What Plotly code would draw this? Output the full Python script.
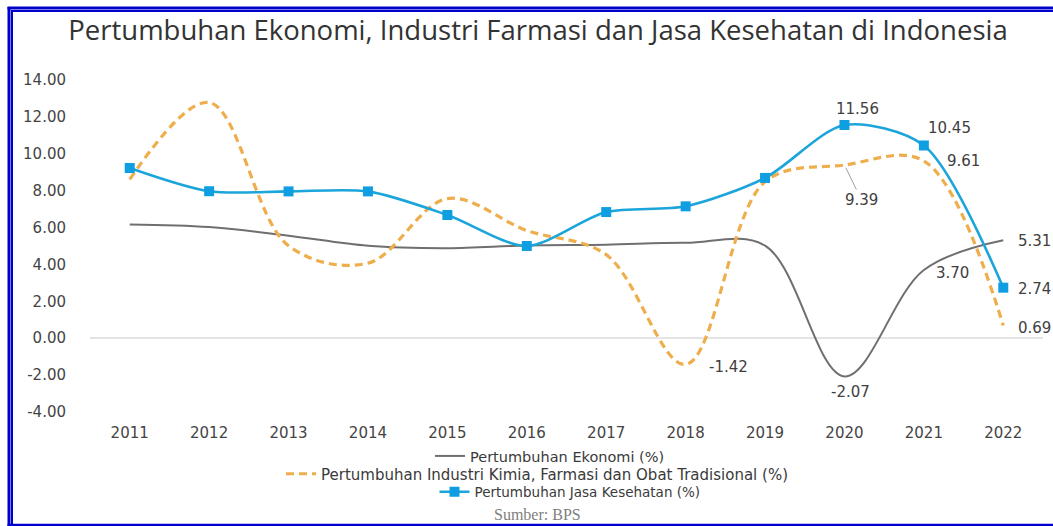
import plotly.graph_objects as go

years = [2011, 2012, 2013, 2014, 2015, 2016, 2017, 2018, 2019, 2020, 2021, 2022]
ekonomi = [6.17, 6.03, 5.56, 5.01, 4.88, 5.03, 5.07, 5.17, 5.02, -2.07, 3.70, 5.31]
farmasi = [8.61, 12.78, 5.01, 4.07, 7.57, 5.84, 4.53, -1.42, 8.48, 9.39, 9.61, 0.69]
kesehatan = [9.23, 7.97, 7.96, 7.96, 6.68, 5.00, 6.84, 7.15, 8.69, 11.56, 10.45, 2.74]
ytick_vals = [-4, -2, 0, 2, 4, 6, 8, 10, 12, 14]
ytick_text = [f"{v:.2f}" for v in ytick_vals]

names = ["Pertumbuhan Ekonomi (%)",
         "Pertumbuhan Industri Kimia, Farmasi dan Obat Tradisional (%)",
         "Pertumbuhan Jasa Kesehatan (%)"]

W, H = 1053, 526
L, R, T, B = 90, 10, 80, 114
PW, PH = W - L - R, H - T - B

def px(x):
    return (x - L) / PW

def py(y):
    return (H - B - y) / PH

FONT = "DejaVu Sans"
fig = go.Figure()
fig.add_trace(go.Scatter(x=years, y=ekonomi, mode="lines", name=names[0],
                         line=dict(color="#6f6f6f", width=2, shape="spline", smoothing=1.0),
                         legend="legend"))
fig.add_trace(go.Scatter(x=years, y=farmasi, mode="lines", name=names[1],
                         line=dict(color="#eeae4c", width=3.2, dash="8px,5px", shape="spline", smoothing=1.0),
                         legend="legend2"))
fig.add_trace(go.Scatter(x=years, y=kesehatan, mode="lines+markers", name=names[2],
                         line=dict(color="#1ba5da", width=2.6, shape="spline", smoothing=0.8),
                         marker=dict(symbol="square", size=10, color="#109ee2"),
                         legend="legend3"))

LBL = dict(family=FONT, size=15, color="#404040")
labels = [
    (2020, kesehatan[9], "11.56", 13, 16),
    (2021, kesehatan[10], "10.45", 26, 17),
    (2021, farmasi[10], "9.61", 40, 0),
    (2022, ekonomi[11], "5.31", 31, -1),
    (2022, kesehatan[11], "2.74", 31, -1),
    (2022, farmasi[11], "0.69", 31, -2),
    (2021, ekonomi[10], "3.70", 29, -3),
    (2020, ekonomi[9], "-2.07", 6, -16),
    (2018, farmasi[7], "-1.42", 43, -3),
]
ann = []
for x, y, t, dx, dy in labels:
    ann.append(dict(x=x, y=y, text=t, showarrow=False, xshift=dx, yshift=dy, font=LBL))
ann.append(dict(x=2020, y=farmasi[9], text="9.39", showarrow=True, arrowhead=0,
                arrowwidth=1, arrowcolor="#a0a0a0", ax=17, ay=35, standoff=3, font=LBL))
ann.append(dict(x=px(537), y=py(514), xref="paper", yref="paper", yanchor="middle",
                text="Sumber: BPS", showarrow=False,
                font=dict(family="Liberation Serif", size=16, color="#808080")))

BLUE = "#0000cd"
shapes = [
    dict(type="line", xref="paper", yref="paper", x0=px(9), x1=px(9), y0=py(7), y1=py(530), line=dict(color=BLUE, width=3)),
    dict(type="line", xref="paper", yref="paper", x0=px(12), x1=px(12), y0=py(10.5), y1=py(530), line=dict(color=BLUE, width=2)),
    dict(type="line", xref="paper", yref="paper", x0=px(7.5), x1=px(1060), y0=py(8), y1=py(8), line=dict(color=BLUE, width=3)),
    dict(type="line", xref="paper", yref="paper", x0=px(11), x1=px(1060), y0=py(11), y1=py(11), line=dict(color=BLUE, width=2)),
    dict(type="line", xref="paper", yref="paper", x0=px(7.5), x1=px(1060), y0=py(525), y1=py(525), line=dict(color=BLUE, width=2.5)),
]

def leg(xc, yc, size):
    return dict(x=px(xc), y=py(yc), xanchor="center", yanchor="middle", orientation="v",
                font=dict(family=FONT, size=size, color="#3a3a3a"),
                bgcolor="rgba(0,0,0,0)", itemwidth=30, tracegroupgap=0)

fig.update_layout(
    width=W, height=H,
    margin=dict(l=L, r=R, t=T, b=B),
    paper_bgcolor="white", plot_bgcolor="white",
    title=dict(text="Pertumbuhan Ekonomi, Industri Farmasi dan Jasa Kesehatan di Indonesia",
               x=538 / W, xanchor="center", y=1 - 30 / H, yanchor="middle", yref="container",
               font=dict(family="Open Sans", size=27.5, color="#333333", weight=500)),
    xaxis=dict(range=[2010.5, 2022.5], tickvals=years, ticktext=[str(y) for y in years],
               showgrid=False, zeroline=False, showline=False,
               ticks="outside", ticklen=7, tickcolor="rgba(0,0,0,0)",
               tickfont=dict(family=FONT, size=15, color="#444444")),
    yaxis=dict(range=[-4, 14], tickvals=ytick_vals, ticktext=ytick_text,
               showgrid=False, zeroline=True, zerolinecolor="#e4e4e4", zerolinewidth=1.5,
               showline=False, ticks="outside", ticklen=20, tickcolor="rgba(0,0,0,0)",
               tickfont=dict(family=FONT, size=15, color="#444444")),
    legend=leg(550, 456, 14.5),
    legend2=leg(537, 474, 15),
    legend3=leg(570, 492, 13.5),
    annotations=ann,
    shapes=shapes,
    showlegend=True,
)

fig.write_html("out.html")
